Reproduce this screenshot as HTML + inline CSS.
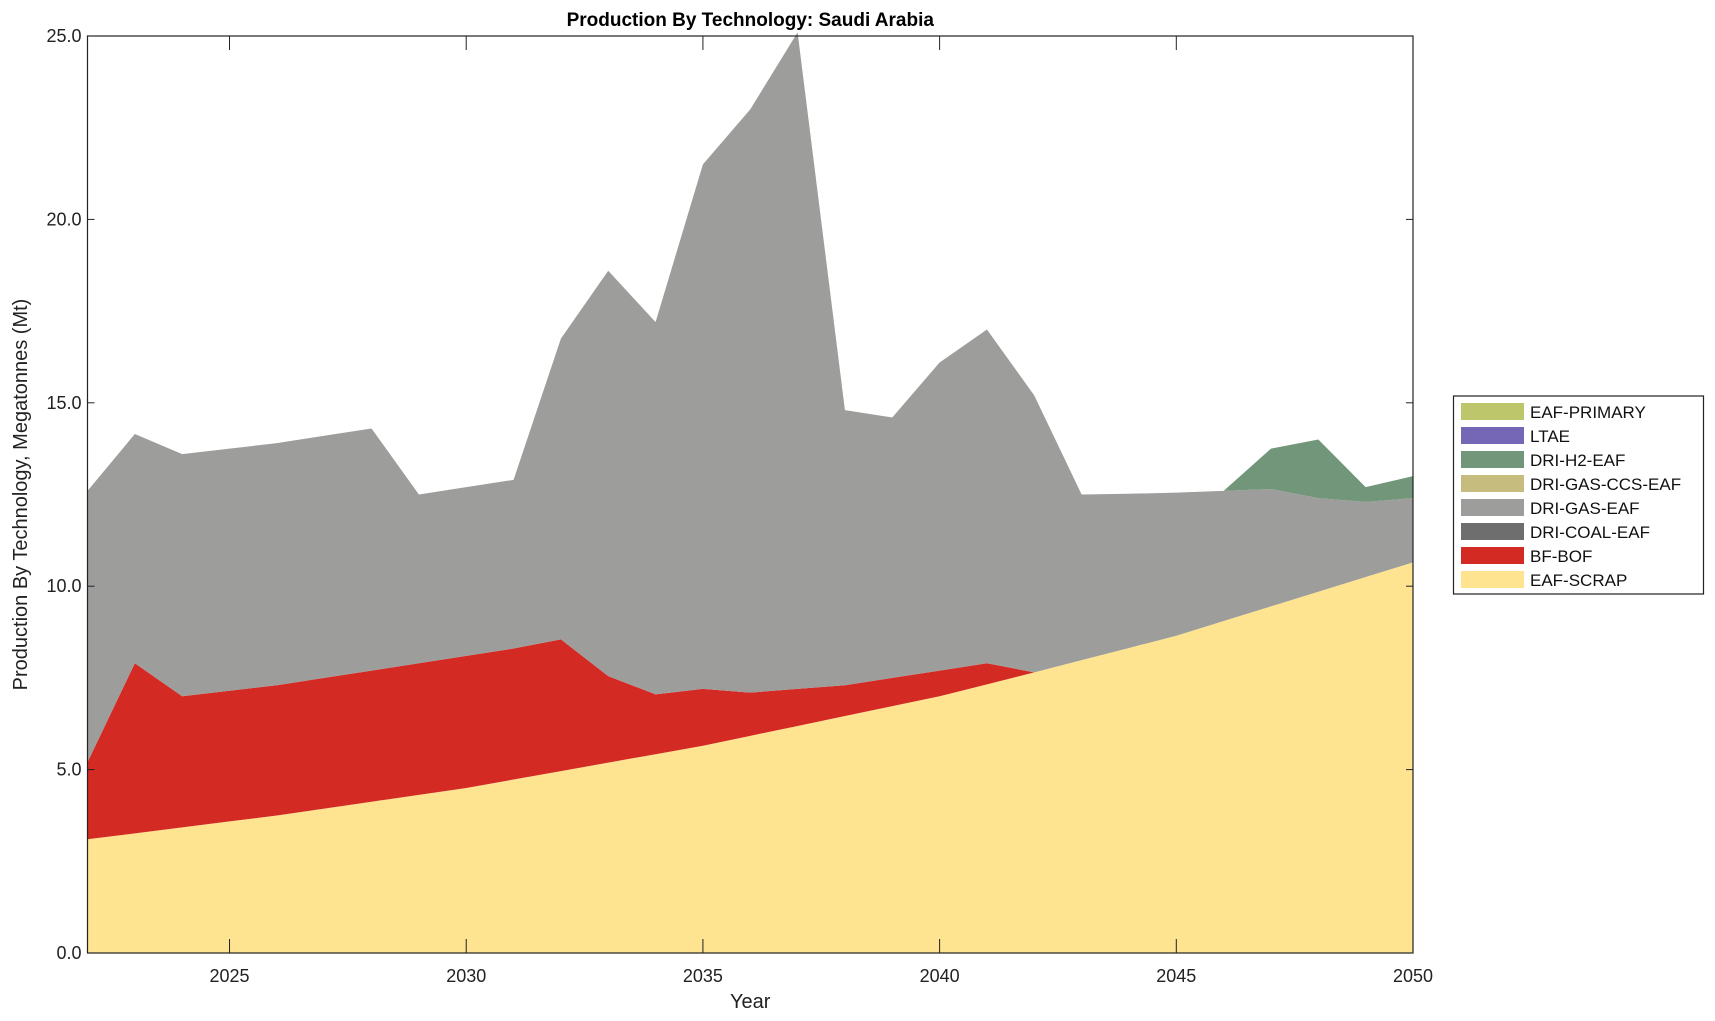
<!DOCTYPE html>
<html><head><meta charset="utf-8"><style>
html,body{margin:0;padding:0;background:#fff;}
svg{display:block;font-family:"Liberation Sans",Arial,sans-serif;}
</style></head><body>
<svg id="s" width="1715" height="1021" xmlns="http://www.w3.org/2000/svg"></svg>
<script>
const L=87.5,R=1413,T=36,B=953;
const X=y=>L+(y-2022)*(R-L)/28, Y=v=>B-v*(B-T)/25;
const years=[];for(let y=2022;y<=2050;y++)years.push(y);
const anc=[[2022,3.1],[2026,3.75],[2030,4.5],[2035,5.65],[2040,7.0],[2042,7.65],[2045,8.65],[2050,10.65]];
function interp(y){for(let i=0;i<anc.length-1;i++){const a=anc[i],b=anc[i+1];if(y>=a[0]&&y<=b[0])return a[1]+(b[1]-a[1])*(y-a[0])/(b[0]-a[0]);}return anc[anc.length-1][1];}
const scrap=years.map(interp);
const redT=[5.2,7.9,7.0,7.15,7.3,7.5,7.7,7.9,8.1,8.3,8.55,7.55,7.05,7.2,7.1,7.2,7.3,7.5,7.7,7.9];
const red=years.map((y,i)=>i<redT.length?Math.max(redT[i],scrap[i]):scrap[i]);
const total=[12.6,14.15,13.6,13.75,13.9,14.1,14.3,12.5,12.7,12.9,16.75,18.6,17.2,21.5,23.0,25.1,14.8,14.6,16.1,17.0,15.2,12.5,12.52,12.55,12.6,13.75,14.0,12.7,13.0];
const gray=total.slice();gray[25]=12.65;gray[26]=12.4;gray[27]=12.3;gray[28]=12.4;
function band(lo,hi,c){let p=[];years.forEach((y,i)=>p.push(X(y)+','+Y(hi[i])));for(let i=years.length-1;i>=0;i--)p.push(X(years[i])+','+Y(lo?lo[i]:0));return `<polygon points="${p.join(' ')}" fill="${c}"/>`;}
let h='';
h+=band(null,scrap,'#fee391');
h+=band(scrap,red,'#d42a24');
h+=band(red,gray,'#9d9d9b');
h+=band(gray,total,'#72967a');
h+=`<rect x="${L}" y="${T}" width="${R-L}" height="${B-T}" fill="none" stroke="#222" stroke-width="1.2"/>`;
for(let v=0;v<=25;v+=5){const y=Y(v);h+=`<line x1="${L}" x2="${L+7}" y1="${y}" y2="${y}" stroke="#222"/><line x1="${R}" x2="${R-7}" y1="${y}" y2="${y}" stroke="#222"/><text x="${L-6}" y="${y+6}" text-anchor="end" font-size="18" fill="#222">${v.toFixed(1)}</text>`;}
for(let yr=2025;yr<=2050;yr+=5){const x=X(yr);h+=`<line x1="${x}" x2="${x}" y1="${B}" y2="${B-14}" stroke="#222"/><line x1="${x}" x2="${x}" y1="${T}" y2="${T+14}" stroke="#222"/><text x="${x}" y="${B+29}" text-anchor="middle" font-size="18" fill="#222">${yr}</text>`;}
h+=`<text x="${(L+R)/2}" y="26" text-anchor="middle" font-size="19" font-weight="bold" fill="#000">Production By Technology: Saudi Arabia</text>`;
h+=`<text x="${(L+R)/2}" y="1008" text-anchor="middle" font-size="20" fill="#222">Year</text>`;
h+=`<text transform="translate(27,${(T+B)/2}) rotate(-90)" text-anchor="middle" font-size="20" fill="#222">Production By Technology, Megatonnes (Mt)</text>`;
h+=`<rect x="1453.5" y="396" width="250" height="198" fill="#fff" stroke="#222" stroke-width="1.2"/>`;
const leg=[['EAF-PRIMARY','#bdc66a'],['LTAE','#7567b5'],['DRI-H2-EAF','#72967a'],['DRI-GAS-CCS-EAF','#c5bc7e'],['DRI-GAS-EAF','#9d9d9b'],['DRI-COAL-EAF','#6e6e6e'],['BF-BOF','#d42a24'],['EAF-SCRAP','#fee391']];
leg.forEach((e,i)=>{const y=403+i*24;h+=`<rect x="1461" y="${y}" width="63" height="17" fill="${e[1]}"/><text x="1530" y="${y+15}" font-size="17" fill="#111">${e[0]}</text>`;});
document.getElementById('s').innerHTML=h;
</script>
</body></html>
